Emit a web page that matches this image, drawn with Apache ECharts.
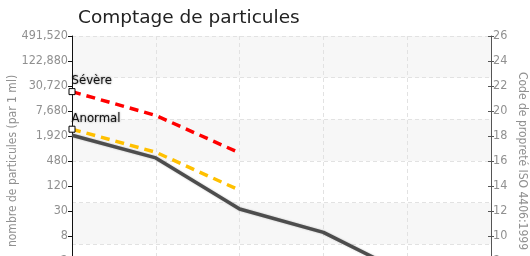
<!DOCTYPE html>
<html>
<head>
<meta charset="utf-8">
<script src="https://cdn.jsdelivr.net/npm/echarts@6/dist/echarts.min.js"></script>
<style>
  html, body { margin: 0; padding: 0; background: #fff; overflow: hidden; }
  #main { width: 530px; height: 300px; }
</style>
</head>
<body>
<div id="main"></div>
<script>
// tailles de particules (axe x, hors cadre en bas)
var sizes = ['>4 µm', '>6 µm', '>14 µm', '>21 µm', '>38 µm', '>70 µm'];
// comptages par ml
var mesure = [2000, 570, 33.5, 9.2, 0.9];
var anormal = [2800, 780, 95];
var severe = [22500, 6000, 750];
// graduations : code ISO et libellé de comptage correspondant
var isoCodes = [6, 8, 10, 12, 14, 16, 18, 20, 22, 24, 26];
var countLabels = ['0.5', '2', '8', '30', '120', '480', '1,920', '7,680', '30,720', '122,880', '491,520'];

var FONT = '"Liberation Sans Narrow", "DejaVu Sans Condensed", sans-serif';

// comptage -> code ISO (échelle log2, 491 520 = code 26)
function toCode(v) {
	return 26 + Math.log(v / 491520) / Math.LN2;
}

function codeSeries(arr) {
	return arr.map(function (v) { return toCode(v); });
}

function firstPoint(arr, name) {
	var d = codeSeries(arr);
	d[0] = {
		value: d[0],
		symbol: 'rect',
		symbolSize: 6,
		itemStyle: { color: '#fff', borderColor: '#000', borderWidth: 1 },
		label: {
			show: true,
			formatter: name,
			position: [3, -1],
			align: 'left',
			verticalAlign: 'bottom',
			fontFamily: FONT,
			fontSize: 13,
			color: '#111',
			textShadowColor: 'rgba(0,0,0,0.5)',
			textShadowBlur: 2
		}
	};
	return d;
}

var chart = echarts.init(document.getElementById('main'));

var option = {
	animation: false,
	title: {
		text: 'Comptage de particules',
		left: 73,
		top: 4,
		textStyle: { fontFamily: 'DejaVu Sans', fontSize: 18.5, fontWeight: 'normal', color: '#222' }
	},
	// la zone de tracé descend sous le bas de la fenêtre (coupée à 256px)
	grid: { left: 72, right: 39, top: 36, bottom: 14, outerBoundsMode: 'none' },
	xAxis: {
		type: 'category',
		data: sizes,
		boundaryGap: false,
		axisLine: { show: false },
		axisTick: { show: false },
		axisLabel: { show: false },
		splitLine: { show: true, lineStyle: { color: '#e2e2e2', type: [4, 3] } }
	},
	yAxis: [
		{
			// comptage (gauche)
			type: 'value',
			position: 'left',
			min: 6, max: 26, interval: 2,
			name: 'nombre de particules (par 1 ml)',
			nameLocation: 'middle',
			nameGap: 53,
			nameMoveOverlap: false,
			nameTextStyle: { fontFamily: FONT, fontSize: 12, color: '#909090' },
			axisLine: { show: true, lineStyle: { color: '#111', width: 1 } },
			axisTick: { show: true, length: 4, lineStyle: { color: '#111' } },
			axisLabel: {
				fontFamily: FONT, fontSize: 12.5, color: '#909090', margin: 4,
				formatter: function (v) { return countLabels[isoCodes.indexOf(v)]; }
			},
			splitLine: { show: false }
		},
		{
			// code ISO (droite)
			type: 'value',
			position: 'right',
			min: 6, max: 26, interval: 2,
			name: 'Code de propreté ISO 4406:1999',
			nameLocation: 'middle',
			nameRotate: -90,
			nameGap: 25,
			nameMoveOverlap: false,
			nameTextStyle: { fontFamily: FONT, fontSize: 12, color: '#909090' },
			axisLine: { show: true, lineStyle: { color: '#555', width: 1 } },
			axisTick: { show: true, length: 3, lineStyle: { color: '#555' } },
			axisLabel: { fontFamily: FONT, fontSize: 12.5, color: '#909090', margin: 2 },
			splitLine: { show: false }
		},
		{
			// grille de fond : 6 bandes
			type: 'value',
			position: 'left',
			min: 0, max: 6, interval: 1,
			axisLine: { show: false },
			axisTick: { show: false },
			axisLabel: { show: false },
			splitLine: { show: true, lineStyle: { color: '#e2e2e2', type: [4, 3] } },
			splitArea: { show: true, areaStyle: { color: ['#ffffff', '#f7f7f7'] } }
		},
		{
			// petites graduations intérieures à droite
			type: 'value',
			position: 'right',
			min: 6, max: 26, interval: 2,
			axisLine: { show: false },
			axisTick: { show: true, inside: true, length: 3, lineStyle: { color: '#555' } },
			axisLabel: { show: false },
			splitLine: { show: false }
		}
	],
	series: [
		{
			name: 'Mesure',
			type: 'line',
			yAxisIndex: 0,
			data: codeSeries(mesure),
			showSymbol: false,
			symbol: 'none',
			lineStyle: { color: '#4d4d4d', width: 3.5, shadowColor: 'rgba(0,0,0,0.25)', shadowBlur: 2 },
			z: 2
		},
		{
			name: 'Anormal',
			type: 'line',
			yAxisIndex: 0,
			data: firstPoint(anormal, 'Anormal'),
			showSymbol: true,
			symbol: 'none',
			lineStyle: { color: '#ffc000', width: 3.5, type: [9, 6] },
			z: 3
		},
		{
			name: 'Sévère',
			type: 'line',
			yAxisIndex: 0,
			data: firstPoint(severe, 'Sévère'),
			showSymbol: true,
			symbol: 'none',
			lineStyle: { color: '#ff0000', width: 3.5, type: [9, 6] },
			z: 4
		}
	]
};

chart.setOption(option);
</script>
</body>
</html>
